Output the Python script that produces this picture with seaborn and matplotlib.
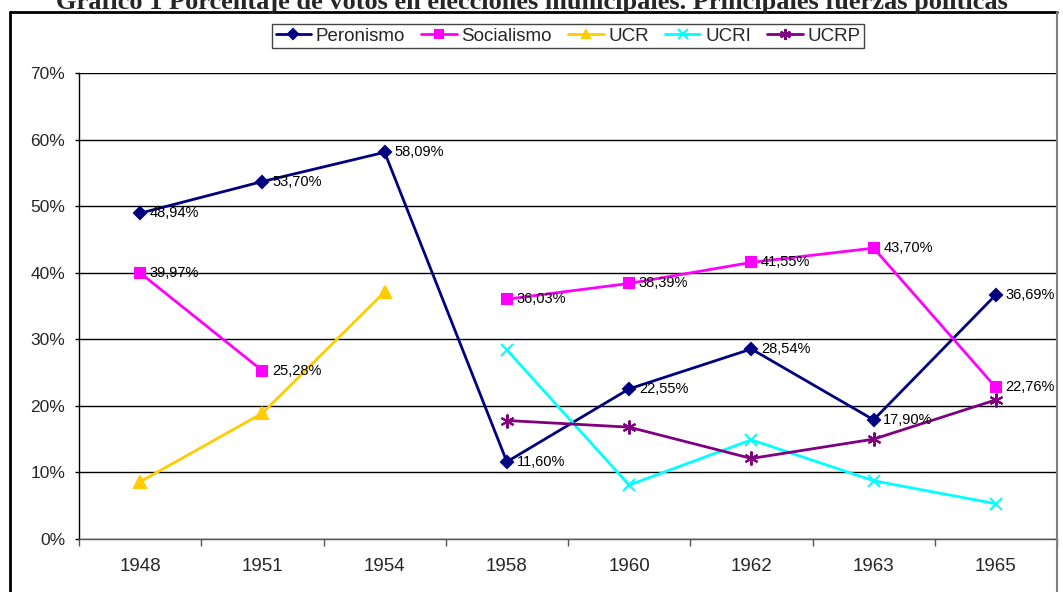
import numpy as np
import pandas as pd
import matplotlib
matplotlib.use("Agg")
import matplotlib.pyplot as plt
import seaborn as sns
from matplotlib.lines import Line2D
from matplotlib.ticker import FixedLocator

#########
# Data (percent of votes)
#########
years = ['1948', '1951', '1954', '1958', '1960', '1962', '1963', '1965']
peronismo = [48.94, 53.70, 58.09, 11.60, 22.55, 28.54, 17.90, 36.69]
socialismo = [39.97, 25.28, np.nan, 36.03, 38.39, 41.55, 43.70, 22.76]
ucr = [8.6, 18.9, 37.1, np.nan, np.nan, np.nan, np.nan, np.nan]
ucri = [np.nan, np.nan, np.nan, 28.4, 8.1, 14.9, 8.75, 5.3]
ucrp = [np.nan, np.nan, np.nan, 17.8, 16.8, 12.1, 15.0, 20.9]

series = {'Peronismo': peronismo, 'Socialismo': socialismo, 'UCR': ucr,
          'UCRI': ucri, 'UCRP': ucrp}
colors = {'Peronismo': '#000080', 'Socialismo': '#FF00FF', 'UCR': '#FFCC00',
          'UCRI': '#00FFFF', 'UCRP': '#800080'}
markers = {'Peronismo': 'D', 'Socialismo': 's', 'UCR': '^',
           'UCRI': 'x', 'UCRP': (6, 2, 0)}
msizes = {'Peronismo': 6, 'Socialismo': 7.5, 'UCR': 8, 'UCRI': 9, 'UCRP': 10}
labelled = ['Peronismo', 'Socialismo']

sns.set_style('white')
plt.rcParams['font.family'] = ['Liberation Sans', 'DejaVu Sans']

fig = plt.figure(figsize=(10.63, 5.92), dpi=100)
ax = fig.add_axes([79 / 1063, 1 - 539 / 592, (1057 - 79) / 1063, (539 - 73) / 592])

pos = np.arange(len(years))
for name, vals in series.items():
    df = pd.DataFrame({'x': pos, 'y': vals})
    # split into contiguous runs so gaps are not bridged
    df['run'] = df['y'].isna().cumsum()
    df = df.dropna()
    first = True
    for _, seg in df.groupby('run'):
        sns.lineplot(x=seg['x'], y=seg['y'], ax=ax, color=colors[name],
                     marker=markers[name], markersize=msizes[name],
                     markeredgecolor=colors[name], markeredgewidth=1.5,
                     linewidth=2, label=name if first else None,
                     estimator=None, sort=False)
        first = False
    if name in labelled:
        for xi, yi in zip(pos, vals):
            if not np.isnan(yi):
                ax.annotate(f'{yi:.2f}%'.replace('.', ','), (xi, yi),
                            xytext=(7, 0), textcoords='offset points',
                            va='center', ha='left', fontsize=10.5, color='black')

ax.set_xlim(-0.5, len(years) - 0.5)
ax.set_ylim(0, 70)
ax.set_yticks(np.arange(0, 71, 10))
ax.set_yticklabels([f'{v}%' for v in range(0, 71, 10)], fontsize=12.5)
ax.set_xticks(pos)
ax.set_xticklabels(years, fontsize=13.5)
ax.xaxis.set_minor_locator(FixedLocator(np.arange(-0.5, len(years), 1.0)))
ax.tick_params(axis='x', which='major', length=0, pad=14)
ax.tick_params(axis='x', which='minor', length=5, color='#555555', width=1,
               direction='out', bottom=True)
ax.tick_params(axis='y', length=3, color='black', width=1, direction='out',
               left=True, pad=7)
ax.grid(axis='y', color='black', linewidth=1)
ax.set_axisbelow(True)
ax.set_xlabel('')
ax.set_ylabel('')
for s in ['top', 'right']:
    ax.spines[s].set_visible(False)
ax.spines['left'].set_color('black')
ax.spines['bottom'].set_color('#555555')
ax.spines['left'].set_linewidth(1)
ax.spines['bottom'].set_linewidth(1)

leg = ax.legend(loc='center', bbox_to_anchor=(568 / 1063, 1 - 36 / 592),
                bbox_transform=fig.transFigure, ncol=5, frameon=True,
                fancybox=False, framealpha=1, edgecolor='#444444',
                fontsize=13.5, handlelength=1.9, handletextpad=0.25,
                columnspacing=0.85, borderpad=0.2, borderaxespad=0,
                markerscale=0.8)
leg.get_frame().set_linewidth(1)

# outer chart border: thick black left/top, thin grey right
fig.add_artist(Line2D([10 / 1063, 10 / 1063], [0, 1 - 12 / 592],
                      transform=fig.transFigure, color='black', linewidth=2))
fig.add_artist(Line2D([10 / 1063, 1057 / 1063], [1 - 12 / 592, 1 - 12 / 592],
                      transform=fig.transFigure, color='black', linewidth=2))
fig.add_artist(Line2D([1057 / 1063, 1057 / 1063], [0, 1 - 12 / 592],
                      transform=fig.transFigure, color='#808080', linewidth=1.5))

fig.text(0.5, 1 - 9 / 592,
         'Gráfico 1 Porcentaje de votos en elecciones municipales. Principales fuerzas políticas',
         ha='center', va='baseline', fontsize=19, fontweight='bold',
         family=['Liberation Serif', 'DejaVu Serif'])

plt.savefig('out.png', dpi=100)
